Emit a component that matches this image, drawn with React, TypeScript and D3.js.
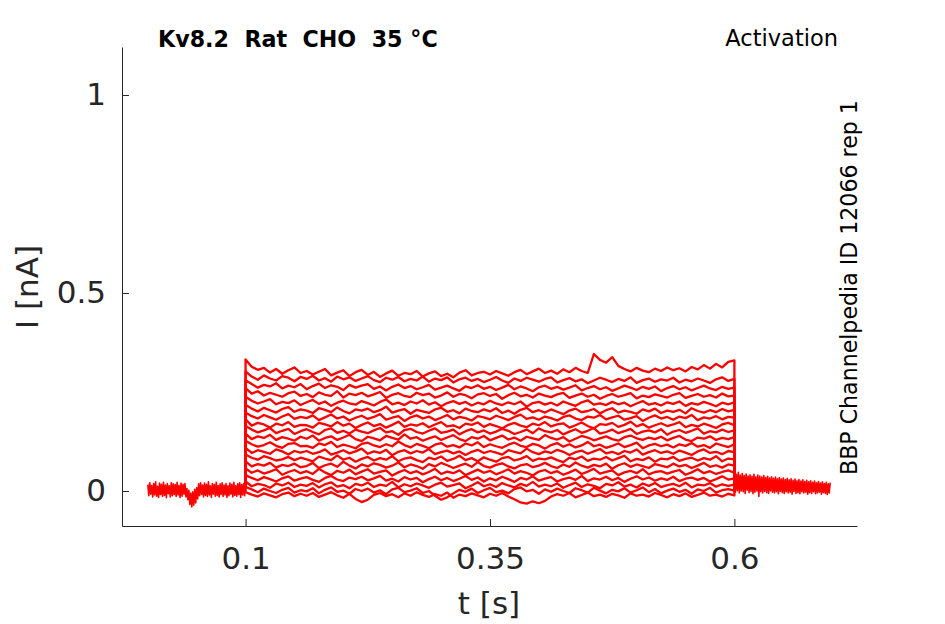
import { useEffect, useRef } from 'react';
import * as d3 from 'd3';

const WIDTH = 945;
const HEIGHT = 624;

// sweep timing (s)
const stepStart = 0.1;
const stepEnd = 0.6;
const stepDt = 0.00625;
const baseDt = 0.001;

// holding current before / after the step (pA), all sweeps overlap here
const preBaseline = [
  16, -12, 21, -8, 14, -15, 19, -10, 23, -13,
  12, -16, 20, -9, 17, -14, 22, -11, 15, -17,
  19, -7, 13, -15, 21, -12, 18, -9, 16, -14,
  22, -10, 14, -16, 20, -13, 17, -8, 19, -15,
  6, -22, 2, -34, -5, -40, -2, -36, 4, -30,
  9, -20, 18, -12, 21, -9, 15, -15, 20, -11,
  17, -14, 23, -10, 13, -16, 19, -8, 16, -13,
  22, -11, 14, -15, 18, -9, 21, -14, 15, -10,
  19, -16, 13, -12, 20, -8, 17, -15, 22, -11,
  14, -13, 18, -9, 21, -16, 16, -10, 19, -12, 15,
];
const postBaseline = [
  46, -3, 42, 1, 47, -5, 40, 0, 44, -2,
  39, -6, 43, 2, 38, -4, 41, -1, 37, -7,
  42, -3, 36, 0, 40, -14, 38, -2, 35, -5,
  39, -1, 34, -4, 37, -6, 33, 0, 36, -3,
  32, -5, 35, -2, 31, -7, 34, -1, 30, -4,
  33, -6, 29, -2, 32, -5, 28, -3, 31, -8,
  27, -1, 30, -6, 26, -4, 29, -7, 25, -2,
  28, -5, 24, -3, 27, -8, 23, -4, 26, -6,
  22, -2, 25, -7, 21, -5, 24, -3, 20, -8,
  23, -4, 19, -6, 22, -9, 18, -5, 21,
];

// current during the voltage step (pA), one array per sweep
const sweep01 = [
  332, 314, 306, 311, 299, 308, 296, 305, 312, 298,
  303, 294, 301, 308, 292, 299, 305, 290, 300, 306,
  293, 301, 288, 297, 304, 291, 298, 295, 303, 289,
  297, 302, 290, 296, 287, 299, 305, 292, 298, 301,
  294, 303, 297, 291, 300, 306, 295, 302, 309, 298,
  304, 296, 307, 300, 311, 303, 298, 346, 331, 324,
  338, 316, 308, 302, 311, 304, 300, 309, 303, 312,
  305, 310, 302, 313, 307, 318, 309, 321, 312, 326, 330,
];
const sweep02 = [
  302, 289, 281, 292, 284, 279, 290, 286, 277, 288,
  283, 291, 279, 285, 276, 289, 282, 287, 278, 284,
  290, 280, 275, 286, 281, 288, 277, 283, 279, 289,
  276, 284, 280, 287, 274, 282, 286, 278, 283, 275,
  281, 288, 279, 273, 284, 278, 286, 281, 276, 283,
  287, 274, 280, 285, 277, 282, 272, 279, 286, 281,
  275, 283, 278, 287, 273, 280, 284, 276, 282, 279,
  286, 274, 281, 277, 284, 279, 273, 282, 287, 278, 283,
];
const sweep03 = [
  280, 270, 261, 268, 264, 272, 259, 266, 262, 270,
  257, 265, 271, 260, 267, 263, 255, 268, 261, 266,
  270, 258, 264, 254, 263, 269, 260, 265, 257, 262,
  268, 256, 261, 266, 259, 253, 264, 260, 267, 258,
  263, 255, 261, 268, 257, 264, 259, 252, 262, 266,
  258, 263, 256, 261, 267, 254, 260, 265, 257, 262,
  253, 259, 266, 261, 255, 263, 258, 264, 252, 260,
  265, 257, 262, 254, 260, 266, 259, 255, 263, 258, 261,
];
const sweep04 = [
  260, 246, 252, 241, 248, 243, 238, 247, 251, 240,
  245, 237, 249, 243, 240, 252, 236, 246, 242, 248,
  239, 244, 250, 235, 243, 247, 240, 237, 248, 242,
  246, 236, 241, 249, 238, 245, 242, 234, 244, 247,
  240, 245, 233, 242, 248, 239, 243, 236, 246, 241,
  237, 244, 248, 235, 241, 246, 238, 243, 233, 240,
  245, 238, 242, 247, 234, 241, 237, 244, 240, 236,
  243, 247, 235, 240, 245, 238, 242, 236, 246, 239, 241,
];
const sweep05 = [
  238, 228, 221, 226, 232, 219, 225, 222, 229, 217,
  224, 230, 220, 226, 215, 223, 228, 221, 218, 227,
  222, 216, 225, 231, 219, 223, 217, 226, 221, 229,
  218, 224, 214, 222, 227, 220, 225, 216, 223, 219,
  228, 221, 217, 224, 219, 226, 213, 222, 225, 218,
  223, 216, 226, 220, 215, 224, 229, 218, 221, 217,
  225, 219, 223, 214, 221, 227, 218, 222, 216, 224,
  220, 226, 215, 222, 218, 225, 220, 214, 223, 219, 224,
];
const sweep06 = [
  218, 208, 201, 210, 204, 198, 207, 212, 200, 206,
  203, 197, 209, 205, 199, 211, 202, 196, 206, 203,
  208, 199, 204, 213, 198, 203, 207, 195, 205, 201,
  197, 206, 210, 200, 204, 196, 208, 202, 199, 206,
  201, 209, 197, 203, 195, 205, 210, 199, 204, 198,
  206, 200, 194, 203, 208, 199, 202, 207, 196, 204,
  209, 198, 203, 200, 195, 206, 201, 208, 197, 203,
  200, 205, 196, 209, 202, 198, 204, 199, 207, 201, 205,
];
const sweep07 = [
  198, 189, 183, 192, 186, 180, 188, 194, 182, 187,
  184, 191, 179, 186, 193, 183, 188, 178, 185, 190,
  182, 187, 194, 180, 185, 189, 177, 186, 191, 183,
  188, 179, 185, 192, 181, 187, 184, 178, 189, 186,
  181, 190, 185, 179, 187, 193, 182, 186, 180, 188,
  184, 178, 187, 191, 183, 179, 188, 185, 192, 181,
  186, 190, 180, 184, 189, 177, 185, 191, 183, 187,
  180, 188, 184, 192, 179, 186, 183, 189, 181, 187, 185,
];
const sweep08 = [
  181, 165, 172, 168, 160, 170, 166, 174, 162, 167,
  166, 160, 172, 168, 163, 174, 165, 170, 159, 167,
  173, 164, 169, 160, 167, 175, 162, 168, 165, 171,
  161, 168, 174, 163, 166, 159, 170, 167, 173, 162,
  169, 164, 158, 167, 172, 165, 161, 170, 166, 174,
  163, 168, 171, 160, 166, 173, 164, 158, 169, 167,
  172, 162, 167, 175, 163, 169, 160, 166, 171, 164,
  168, 174, 161, 167, 163, 170, 165, 159, 168, 172, 166,
];
const sweep09 = [
  164, 155, 148, 153, 159, 146, 152, 157, 144, 151,
  156, 149, 143, 154, 158, 147, 152, 145, 155, 150,
  146, 153, 159, 148, 151, 142, 154, 157, 149, 145,
  152, 158, 147, 150, 155, 143, 151, 156, 148, 153,
  145, 150, 157, 152, 144, 149, 155, 146, 158, 151,
  148, 154, 143, 150, 156, 147, 152, 159, 145, 149,
  155, 146, 151, 157, 144, 150, 153, 148, 156, 142,
  150, 154, 147, 152, 158, 145, 151, 148, 155, 149, 153,
];
const sweep10 = [
  145, 131, 138, 134, 142, 129, 136, 132, 127, 137,
  132, 140, 127, 134, 138, 129, 135, 142, 131, 126,
  137, 133, 128, 139, 134, 130, 143, 132, 136, 127,
  133, 138, 129, 135, 141, 131, 126, 136, 132, 139,
  128, 134, 140, 130, 135, 127, 137, 133, 129, 141,
  134, 130, 136, 125, 132, 139, 135, 128, 133, 138,
  131, 127, 136, 140, 133, 129, 135, 131, 137, 128,
  134, 139, 130, 126, 135, 132, 138, 129, 134, 131, 136,
];
const sweep11 = [
  127, 118, 112, 116, 123, 114, 109, 119, 121, 113,
  114, 109, 120, 116, 124, 111, 117, 113, 108, 119,
  122, 115, 111, 118, 113, 125, 116, 110, 119, 114,
  108, 117, 121, 112, 116, 110, 120, 115, 123, 111,
  118, 113, 109, 117, 122, 114, 111, 119, 115, 107,
  116, 121, 112, 118, 110, 115, 124, 113, 117, 109,
  114, 120, 111, 116, 122, 108, 115, 119, 113, 117,
  110, 118, 114, 121, 112, 116, 109, 120, 115, 111, 118,
];
const sweep12 = [
  109, 96, 103, 99, 94, 105, 100, 92, 101, 97,
  101, 94, 98, 105, 92, 97, 103, 95, 100, 107,
  94, 100, 96, 104, 90, 99, 103, 95, 101, 97,
  106, 93, 98, 102, 95, 100, 91, 99, 104, 96,
  101, 97, 92, 103, 99, 95, 107, 98, 93, 100,
  96, 104, 99, 91, 98, 102, 94, 100, 106, 95,
  99, 93, 101, 97, 105, 92, 98, 103, 96, 100,
  94, 102, 97, 91, 100, 105, 96, 99, 93, 101, 98,
];
const sweep13 = [
  92, 84, 79, 88, 83, 77, 80, 86, 78, 84,
  80, 75, 87, 82, 78, 90, 79, 84, 74, 81,
  86, 77, 83, 79, 88, 75, 82, 85, 78, 73,
  84, 80, 87, 76, 81, 89, 78, 83, 75, 85,
  79, 74, 83, 86, 77, 81, 88, 76, 82, 80,
  85, 78, 73, 84, 80, 87, 76, 82, 79, 86,
  77, 83, 89, 75, 81, 78, 85, 74, 82, 80,
  86, 76, 81, 84, 77, 83, 79, 88, 75, 82, 80,
];
const sweep14 = [
  75, 62, 68, 64, 71, 59, 66, 63, 69, 60,
  63, 71, 58, 65, 69, 61, 74, 64, 57, 67,
  62, 70, 66, 59, 64, 72, 60, 67, 63, 56,
  68, 62, 71, 65, 58, 64, 69, 61, 73, 63,
  59, 66, 70, 62, 57, 65, 68, 60, 64, 71,
  63, 58, 67, 61, 72, 64, 59, 66, 62, 69,
  56, 65, 70, 61, 67, 63, 58, 68, 64, 60,
  69, 62, 66, 58, 64, 71, 61, 65, 59, 67, 64,
];
const sweep15 = [
  57, 46, 52, 44, 49, 55, 41, 48, 53, 45,
  50, 43, 56, 47, 40, 51, 46, 54, 42, 49,
  55, 44, 48, 52, 39, 47, 53, 45, 50, 42,
  48, 56, 43, 49, 45, 52, 40, 47, 54, 46,
  51, 42, 48, 55, 44, 50, 46, 39, 49, 53,
  45, 50, 41, 47, 54, 43, 49, 56, 44, 48,
  52, 40, 47, 51, 45, 55, 42, 48, 50, 44,
  49, 53, 41, 47, 55, 45, 50, 43, 48, 52, 46,
];
const sweep16 = [
  40, 33, 27, 35, 30, 24, 32, 37, 26, 31,
  35, 28, 23, 33, 38, 29, 25, 34, 30, 36,
  27, 32, 38, 26, 31, 24, 35, 29, 33, 22,
  30, 36, 27, 33, 25, 31, 38, 28, 34, 24,
  32, 27, 36, 30, 23, 33, 29, 37, 26, 31,
  35, 24, 30, 34, 28, 38, 25, 32, 29, 36,
  27, 33, 23, 31, 37, 29, 34, 26, 32, 28,
  36, 25, 31, 34, 28, 33, 24, 30, 37, 29, 32,
];
const sweep17 = [
  24, 12, 18, 15, 8, 19, 14, 21, 10, 16,
  13, 20, 9, 17, 22, 11, 15, 7, 18, 14,
  21, 10, 16, 13, 23, 9, 17, 12, 19, 14,
  8, 16, 21, 11, 15, 19, 7, 14, 22, 12,
  17, 10, 20, 14, 9, 18, 13, 23, 11, 16,
  12, 19, 8, 15, 21, 10, 17, 13, 7, 18,
  14, 22, 11, 16, 9, 19, 13, 20, 10, 15,
  18, 12, 21, 9, 16, 14, 20, 11, 17, 13, 16,
];
const sweep18 = [
  10, 4, -3, 6, 0, -5, 3, 8, -4, 2,
  -1, 7, -6, 3, 9, -2, 1, -7, 5, 0,
  6, -4, 2, -8, 4, 8, -3, 1, 7, -5,
  0, -12, -22, -16, -6, 3, -2, 6, -5, 2,
  8, -3, 1, -6, 5, 9, -1, 3, -7, 4,
  -2, 6, 0, -5, 7, 2, -4, 8, 1, -6,
  3, -1, 7, -4, 2, 9, -3, 5, -6, 1,
  6, -2, 3, -7, 4, 0, 8, -4, 2, 5, 1,
];
const sweep19 = [
  -3, -9, -14, -6, -11, -16, -8, -4, -13, -7,
  -12, -5, -15, -9, -3, -11, -17, -7, -20, -28,
  -22, -10, -5, -13, -8, -16, -6, -12, -3, -10,
  -15, -8, -12, -4, -17, -9, -13, -6, -11, -16,
  -7, -12, -5, -14, -21, -29, -32, -26, -31, -25,
  -14, -8, -12, -5, -16, -10, -4, -13, -9, -15,
  -7, -11, -17, -6, -12, -9, -14, -5, -10, -16,
  -8, -13, -6, -15, -10, -4, -12, -9, -14, -7, -11,
];

const sweeps = [
  sweep01, sweep02, sweep03, sweep04, sweep05, sweep06, sweep07, sweep08, sweep09, sweep10,
  sweep11, sweep12, sweep13, sweep14, sweep15, sweep16, sweep17, sweep18, sweep19,
];

const xTicks = [0.1, 0.35, 0.6];
const yTicks = [0, 0.5, 1];

const titleText = 'Kv8.2  Rat  CHO  35 °C';
const protocolText = 'Activation';
const sourceText = 'BBP Channelpedia ID 12066 rep 1';

const INK = '#262626';
const FONT = '"DejaVu Sans", Verdana, sans-serif';

type Pt = [number, number];

const App = () => {
  const ref = useRef<SVGSVGElement>(null);

  useEffect(() => {
    const svg = d3.select(ref.current);
    svg.selectAll('*').remove();

    // axis scales
    const x = d3.scaleLinear().domain([-0.0264, 0.7254]).range([122, 857]);
    const y = d3.scaleLinear().domain([-0.0884, 1.1212]).range([526, 47]);

    // values are stored in pA, plotted in nA
    const line = d3
      .line<Pt>()
      .x((d) => x(d[0]))
      .y((d) => y(d[1] / 1000));

    const traces = svg
      .append('g')
      .attr('fill', 'none')
      .attr('stroke', '#ff0000')
      .attr('stroke-linejoin', 'round');

    const prePts: Pt[] = preBaseline.map((v, i) => [i * baseDt, v]);
    const postPts: Pt[] = postBaseline.map((v, i) => [stepEnd + i * baseDt, v]);

    traces.append('path').attr('stroke-width', 1.6).attr('d', line(prePts));
    traces.append('path').attr('stroke-width', 1.6).attr('d', line(postPts));

    traces
      .selectAll('path.sweep')
      .data(sweeps)
      .join('path')
      .attr('class', 'sweep')
      .attr('stroke-width', 2.3)
      .attr('d', (s) => {
        const pts: Pt[] = [[stepStart, preBaseline[preBaseline.length - 1]]];
        s.forEach((v, k) => pts.push([stepStart + k * stepDt, v]));
        pts.push([stepEnd, postBaseline[0]]);
        return line(pts);
      });

    // axes, ticks pointing inwards
    const xAxis = d3
      .axisBottom(x)
      .tickValues(xTicks)
      .tickFormat((d) => String(d))
      .tickSizeInner(-7)
      .tickSizeOuter(0)
      .tickPadding(21);
    const yAxis = d3
      .axisLeft(y)
      .tickValues(yTicks)
      .tickFormat((d) => String(d))
      .tickSizeInner(-7)
      .tickSizeOuter(0)
      .tickPadding(16);

    const gx = svg.append('g').attr('transform', 'translate(0,526)').call(xAxis);
    const gy = svg.append('g').attr('transform', 'translate(122,0)').call(yAxis);

    [gx, gy].forEach((g) => {
      g.attr('font-family', FONT).attr('font-size', 31);
      g.selectAll('path, line').attr('stroke', INK);
      g.selectAll('text').attr('fill', INK);
    });

    // labels
    svg
      .append('text')
      .attr('x', 489)
      .attr('y', 614)
      .attr('text-anchor', 'middle')
      .attr('font-family', FONT)
      .attr('font-size', 31)
      .attr('fill', INK)
      .text('t [s]');

    svg
      .append('text')
      .attr('transform', 'translate(38,287) rotate(-90)')
      .attr('text-anchor', 'middle')
      .attr('font-family', FONT)
      .attr('font-size', 31)
      .attr('fill', INK)
      .text('I [nA]');

    svg
      .append('text')
      .attr('x', 158)
      .attr('y', 47)
      .attr('font-family', FONT)
      .attr('font-size', 22.2)
      .attr('font-weight', 'bold')
      .attr('fill', '#000')
      .style('white-space', 'pre')
      .text(titleText);

    svg
      .append('text')
      .attr('x', 838)
      .attr('y', 46)
      .attr('text-anchor', 'end')
      .attr('font-family', FONT)
      .attr('font-size', 22.5)
      .attr('fill', '#000')
      .text(protocolText);

    svg
      .append('text')
      .attr('transform', 'translate(857,475) rotate(-90)')
      .attr('font-family', FONT)
      .attr('font-size', 22.1)
      .attr('fill', '#000')
      .text(sourceText);
  }, []);

  return (
    <svg
      ref={ref}
      width={WIDTH}
      height={HEIGHT}
      style={{ position: 'absolute', left: 0, top: 0, background: '#fff' }}
    />
  );
};

export default App;
